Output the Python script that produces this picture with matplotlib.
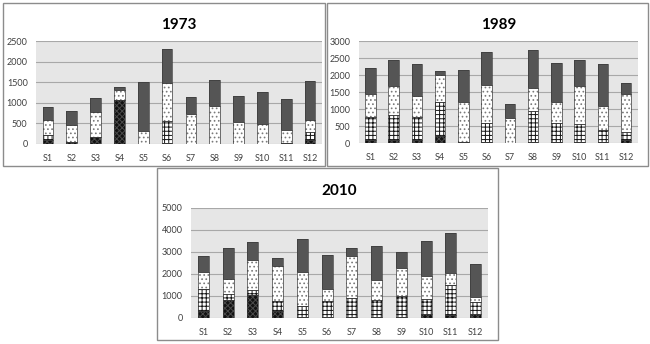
import matplotlib.pyplot as plt
from matplotlib.patches import Rectangle

plt.rcParams['font.family'] = ['Lato', 'DejaVu Sans']
plt.rcParams['hatch.linewidth'] = 0.7

sites = ['S1', 'S2', 'S3', 'S4', 'S5', 'S6', 'S7', 'S8', 'S9', 'S10', 'S11', 'S12']

# four stacked components per site, bottom to top
dark_1973 = [100, 60, 160, 1070, 10, 20, 10, 10, 10, 10, 20, 100]
grid_1973 = [120, 0, 0, 0, 0, 530, 0, 0, 0, 0, 0, 195]
dots_1973 = [370, 405, 605, 250, 315, 930, 715, 920, 535, 480, 320, 290]
top_1973 = [300, 325, 350, 65, 1175, 830, 415, 630, 625, 780, 750, 955]

dark_1989 = [100, 100, 100, 215, 20, 30, 10, 30, 30, 30, 30, 100]
grid_1989 = [665, 715, 655, 980, 0, 560, 0, 900, 560, 540, 360, 215]
dots_1989 = [675, 850, 615, 815, 1175, 1125, 725, 685, 625, 1115, 710, 1125]
top_1989 = [765, 765, 950, 115, 940, 960, 420, 1130, 1145, 765, 1230, 335]

dark_2010 = [320, 810, 1065, 335, 50, 30, 30, 30, 30, 200, 120, 200]
grid_2010 = [990, 300, 200, 425, 500, 730, 900, 795, 960, 655, 1375, 530]
dots_2010 = [795, 640, 1355, 1600, 1555, 550, 1890, 880, 1295, 1065, 565, 230]
top_2010 = [730, 1420, 855, 385, 1490, 1555, 380, 1570, 730, 1600, 1795, 1480]

panels = [
    ('1973', [0.0554, 0.5814, 0.44, 0.2994], 2500, 500,
     [dark_1973, grid_1973, dots_1973, top_1973]),
    ('1989', [0.552, 0.5843, 0.429, 0.2965], 3000, 500,
     [dark_1989, grid_1989, dots_1989, top_1989]),
    ('2010', [0.2938, 0.0756, 0.457, 0.3198], 5000, 1000,
     [dark_2010, grid_2010, dots_2010, top_2010]),
]

# face colour, hatch, hatch colour for each layer
styles = [
    ('#121212', 'xxxxxx', '#4a4a4a'),
    ('white', '++++', '#151515'),
    ('white', '....', '#7a7a7a'),
    ('#555555', '', '#555555'),
]

# frames around each chart (pixels: left, top, right, bottom)
frames = [(3, 3, 325, 166), (327, 3, 648, 166), (157, 168, 498, 340)]

fig = plt.figure(figsize=(6.5, 3.44), dpi=100)
W, H = 650, 344
for x0, y0, x1, y1 in frames:
    fig.patches.append(Rectangle((x0 / W, 1 - y1 / H), (x1 - x0) / W, (y1 - y0) / H,
                                 transform=fig.transFigure, facecolor='white',
                                 edgecolor='#8c8c8c', linewidth=1.0, zorder=-5))

xs = list(range(len(sites)))
for title, rect, ymax, step, layers in panels:
    ax = fig.add_axes(rect)
    ax.set_facecolor('#e6e6e6')
    bottom = [0] * len(sites)
    for vals, (fc, hatch, hc) in zip(layers, styles):
        ax.bar(xs, vals, width=0.45, bottom=bottom, color=fc, hatch=hatch,
               edgecolor=hc, linewidth=0, zorder=3)
        ax.bar(xs, vals, width=0.45, bottom=bottom, fill=False,
               edgecolor='#3a3a3a', linewidth=0.5, zorder=4)
        bottom = [b + v for b, v in zip(bottom, vals)]
    ax.set_xlim(-0.5, len(sites) - 0.5)
    ax.set_ylim(0, ymax)
    ax.set_yticks(range(0, ymax + 1, step))
    ax.set_xticks(xs)
    ax.set_xticklabels(sites)
    ax.grid(axis='y', color='#a8a8a8', linewidth=0.8, zorder=1)
    ax.set_axisbelow(True)
    for s in ax.spines.values():
        s.set_visible(False)
    ax.tick_params(length=0, labelsize=6.5, colors='#404040')
    ax.tick_params(axis='x', pad=7)
    ax.tick_params(axis='y', pad=6)
    ax.set_title(title, fontsize=11, fontweight='bold', pad=9)

fig.savefig('out.png', dpi=100)
